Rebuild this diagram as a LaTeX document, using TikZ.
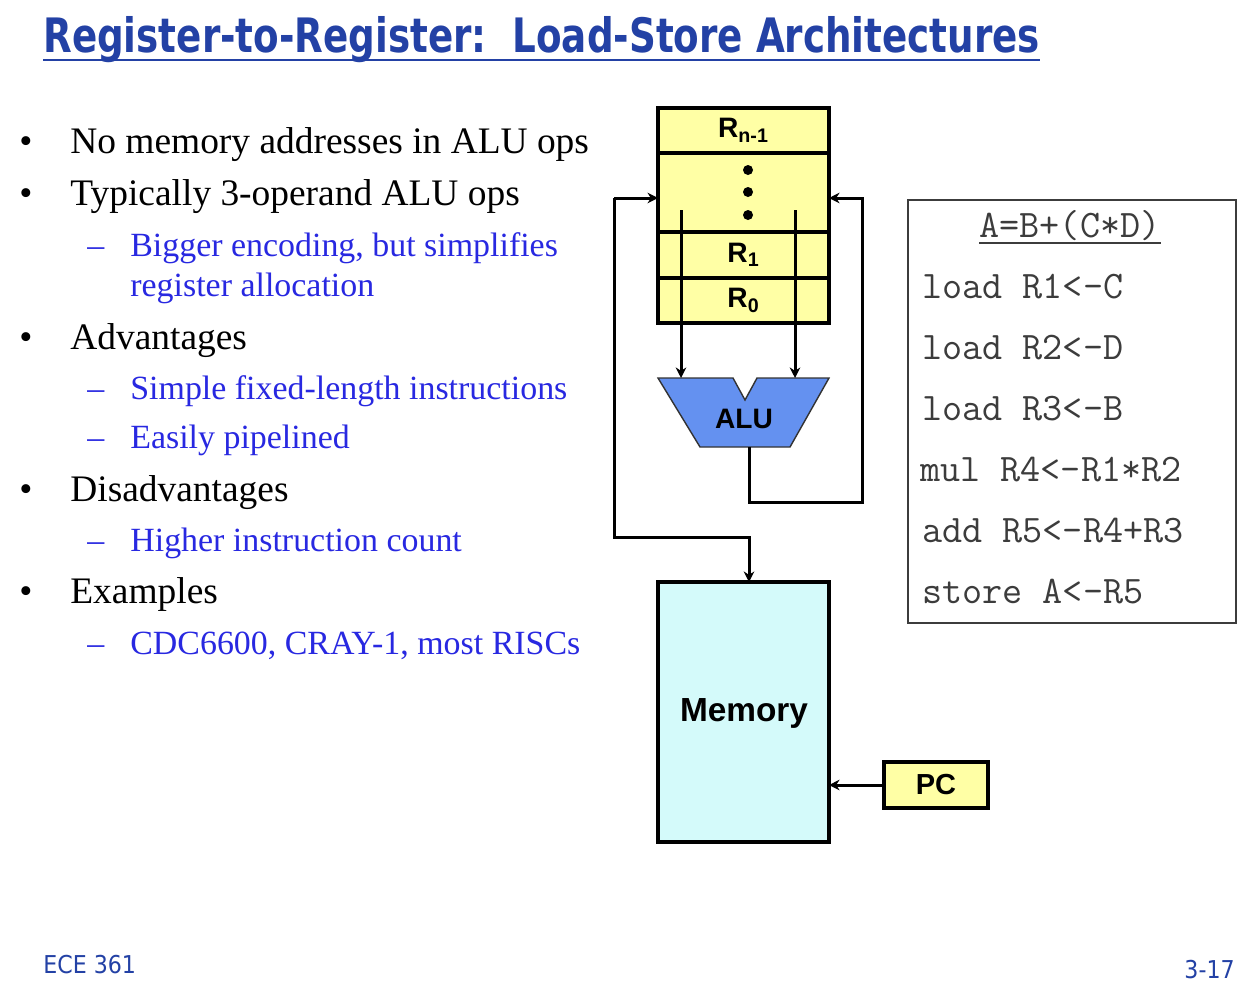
\documentclass[tikz,border=0pt]{standalone}
\usepackage{fontspec}
\setmainfont{Liberation Serif}
\setsansfont{Liberation Sans}
\newfontfamily\condfont{DejaVu Sans Condensed}
\usetikzlibrary{arrows.meta}
\usetikzlibrary{positioning}

\definecolor{titleblue}{RGB}{35,65,165}
\definecolor{subblue}{RGB}{40,40,225}
\definecolor{regyellow}{RGB}{255,255,165}
\definecolor{memcyan}{RGB}{212,250,250}
\definecolor{alublue}{RGB}{100,145,240}
\definecolor{codegray}{RGB}{60,60,60}

\tikzset{
	thickbox/.style={draw=black,line width=2.2pt,inner sep=0pt,outer sep=0pt},
	regcell/.style={thickbox,fill=regyellow,minimum width=3.42cm,
		font=\sffamily\bfseries\fontsize{16}{16}\selectfont},
	wire/.style={draw=black,-{Stealth[length=6pt,width=6pt]},line width=1.7pt},
	mainitem/.style={anchor=base west,inner sep=0pt,font=\fontsize{21.3}{21.3}\selectfont},
	subitem/.style={anchor=base west,inner sep=0pt,text=subblue,font=\fontsize{19.3}{19.3}\selectfont},
	codeline/.style={anchor=base west,inner sep=0pt,text=codegray,font=\ttfamily\fontsize{22.2}{22.2}\selectfont}
}

\begin{document}
\begin{tikzpicture}[x=0.02cm,y=-0.02cm]
	\useasboundingbox[fill=white] (0,0) rectangle (1256,1005);

	%Title
	\node[anchor=base west,text=titleblue,inner sep=0pt,
		font=\condfont\bfseries\fontsize{27}{27}\selectfont] (title) at (43,52)
		{\scalebox{0.873}[1]{Register-to-Register:\ \ Load-Store Architectures}};
	\draw[titleblue,line width=1.3pt] ([yshift=-8*0.02cm]title.base west) -- ([yshift=-8*0.02cm]title.base east);

	%Bullet list at the left
	\node[mainitem] (b1) at (19,153) {•};
	\node[mainitem] (t1) at (70,153) {No memory addresses in ALU ops};
	\node[mainitem] (b2) at (19,205) {•};
	\node[mainitem] (t2) at (70,205) {Typically 3-operand ALU ops};
	\node[subitem] (d1) at (87,256) {--};
	\node[subitem] (s1) at (130,256) {Bigger encoding, but simplifies};
	\node[subitem] (s1b) at (130,296) {register allocation};
	\node[mainitem] (b3) at (19,349) {•};
	\node[mainitem] (t3) at (70,349) {Advantages};
	\node[subitem] (d2) at (87,399) {--};
	\node[subitem] (s2) at (130,399) {Simple fixed-length instructions};
	\node[subitem] (d3) at (87,448) {--};
	\node[subitem] (s3) at (130,448) {Easily pipelined};
	\node[mainitem] (b4) at (19,501) {•};
	\node[mainitem] (t4) at (70,501) {Disadvantages};
	\node[subitem] (d4) at (87,551) {--};
	\node[subitem] (s4) at (130,551) {Higher instruction count};
	\node[mainitem] (b5) at (19,603) {•};
	\node[mainitem] (t5) at (70,603) {Examples};
	\node[subitem] (d5) at (87,654) {--};
	\node[subitem] (s5) at (130,654) {CDC6600, CRAY-1, most RISCs};

	%Register file
	\node[regcell,minimum height=0.9cm,anchor=north] (rtop) at (743.5,108) {R\textsubscript{n-1}};
	\node[regcell,minimum height=1.58cm,below=0pt of rtop] (rdots) {};
	\node[regcell,minimum height=0.92cm,below=0pt of rdots] (rone) {R\textsubscript{1}};
	\node[regcell,minimum height=0.9cm,below=0pt of rone] (rzero) {R\textsubscript{0}};
	\foreach \yy in {170,192,215}
		\fill (748,\yy) circle [radius=5];

	%ALU
	\draw[fill=alublue,draw=black!80,line width=0.8pt]
		(658,378) -- (733,378) -- (745,400) -- (757,378) -- (829,378)
		-- (790,447) -- (700,447) -- cycle;
	\node[font=\sffamily\bfseries\fontsize{16}{16}\selectfont] (alu) at (744,419) {ALU};
	\coordinate (aluinA) at (681,378);
	\coordinate (aluinB) at (795,378);
	\coordinate (aluout) at (749,447);
	\coordinate (rdA) at (681,210);
	\coordinate (rdB) at (795,210);
	\draw[wire] (rdA) -- (aluinA);
	\draw[wire] (rdB) -- (aluinB);

	%Memory and PC
	\node[thickbox,fill=memcyan,minimum width=3.42cm,minimum height=5.2cm,anchor=north] (mem) at (743.5,582) {};
	\node[font=\sffamily\bfseries\fontsize{19}{19}\selectfont] (memlabel) at (744,713) {Memory};
	\node[thickbox,fill=regyellow,minimum width=2.08cm,minimum height=0.92cm,
		font=\sffamily\bfseries\fontsize{16.5}{16.5}\selectfont] (pc) at (936,785) {PC};
	\draw[wire] (pc.west) -- (pc.west -| mem.east);

	%Load/store path and write back
	\coordinate (ldstart) at (614,198);
	\coordinate (ldturn) at (614,537);
	\coordinate (memin) at (749,537);
	\draw[wire] (ldstart) -- (ldstart -| rdots.west);
	\draw[wire] (ldstart) -- (ldturn) -- (memin) -- (memin |- mem.north);
	\coordinate (wbturn) at (862,502);
	\draw[wire] (aluout) -- (aluout |- wbturn) -- (wbturn) -- (862,198) -- (862,198 -| rdots.east);

	%Code listing
	\node[draw=codegray,line width=1.1pt,minimum width=6.56cm,minimum height=8.46cm,
		anchor=north west,inner sep=0pt] (code) at (907,199) {};
	\node[anchor=base,text=codegray,font=\ttfamily\fontsize{22.2}{22.2}\selectfont,inner sep=0pt]
		(expr) at (1070,237) {A=B+(C*D)};
	\draw[codegray,line width=1.2pt] ([yshift=-6*0.02cm]expr.base west) -- ([yshift=-6*0.02cm]expr.base east);
	\node[codeline] (c1) at (922,298) {load R1<-C};
	\node[codeline] (c2) at (922,359) {load R2<-D};
	\node[codeline] (c3) at (922,420) {load R3<-B};
	\node[codeline] (c4) at (920,481) {mul R4<-R1*R2};
	\node[codeline] (c5) at (922,542) {add R5<-R4+R3};
	\node[codeline] (c6) at (922,603) {store A<-R5};

	%Footer
	\node[anchor=base west,inner sep=0pt,text=titleblue,font=\condfont\fontsize{14}{14}\selectfont] (course) at (43,973) {ECE 361};
	\node[anchor=base east,inner sep=0pt,text=titleblue,font=\condfont\fontsize{14}{14}\selectfont] (page) at (1235,978) {3-17};
\end{tikzpicture}
\end{document}
